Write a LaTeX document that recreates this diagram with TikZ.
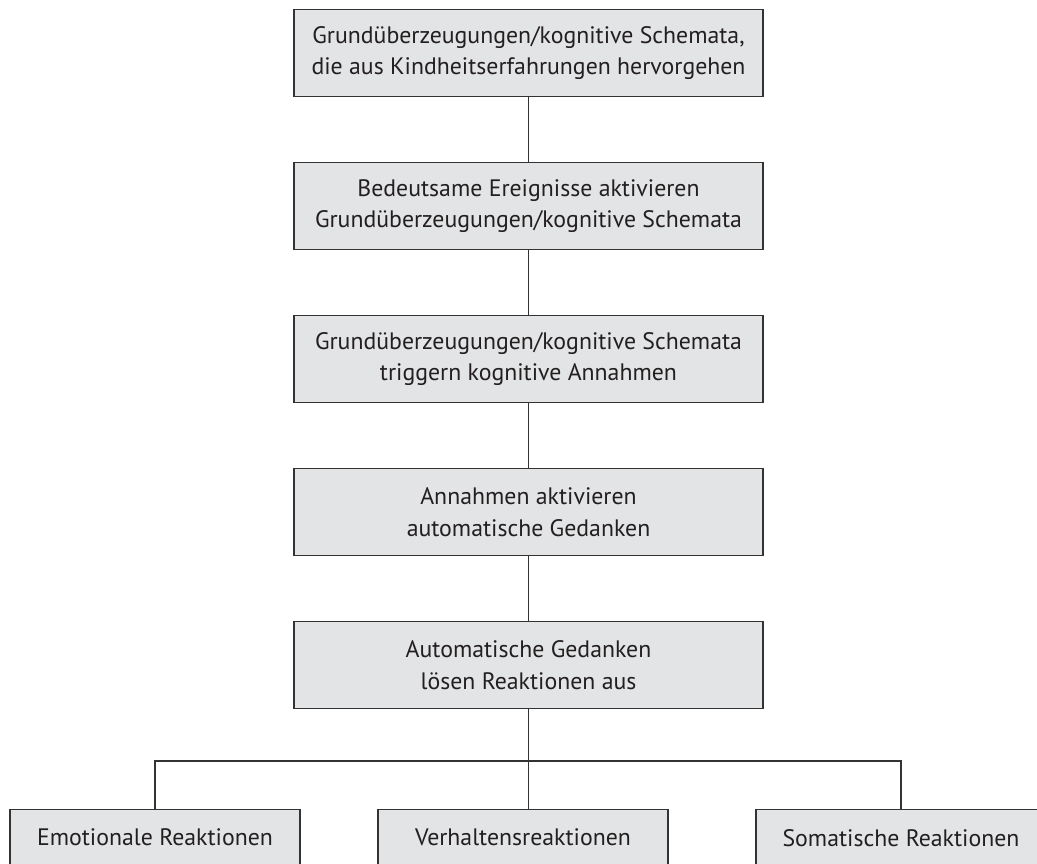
\documentclass[tikz,border=0pt]{standalone}
\usepackage{fontspec}
\setmainfont{PT Sans}
\definecolor{boxfill}{HTML}{E3E4E5}
\definecolor{boxline}{HTML}{333333}
\definecolor{txt}{HTML}{231F20}
\begin{document}
\begin{tikzpicture}[x=1pt,y=-1pt,
  box/.style={draw=boxline, line width=1.4pt, fill=boxfill, text=txt,
    inner sep=0pt, align=center, minimum width=469pt, minimum height=87pt,
    font=\fontsize{23.8}{31.5}\selectfont},
  leaf/.style={box, minimum width=290pt, minimum height=56pt, anchor=north},
  conn/.style={draw=boxline, line width=1.4pt}]
\useasboundingbox (0,0) rectangle (1037,864);
\clip (0,0) rectangle (1037,864);
\node[box] (b1) at (528.5,53) {Grundüberzeugungen/kognitive Schemata,\\die aus Kindheitserfahrungen hervorgehen};
\node[box] (b2) at (528.5,206) {Bedeutsame Ereignisse aktivieren\\Grundüberzeugungen/kognitive Schemata};
\node[box] (b3) at (528.5,359) {Grundüberzeugungen/kognitive Schemata\\triggern kognitive Annahmen};
\node[box] (b4) at (528.5,512) {Annahmen aktivieren\\automatische Gedanken};
\node[box] (b5) at (528.5,665) {Automatische Gedanken\\lösen Reaktionen aus};
\node[leaf] (e) at (155,809) {Emotionale Reaktionen};
\node[leaf] (v) at (523,809) {Verhaltensreaktionen};
\node[leaf] (s) at (901,809) {Somatische Reaktionen};
\coordinate (j) at (528.5,761);
\draw[conn] (b1) -- (b2);
\draw[conn] (b2) -- (b3);
\draw[conn] (b3) -- (b4);
\draw[conn] (b4) -- (b5);
\draw[conn] (b5) -- (j);
\draw[conn] (e.north) |- (j) -| (s.north);
\draw[conn] (j) -- (j |- v.north);
\end{tikzpicture}
\end{document}
